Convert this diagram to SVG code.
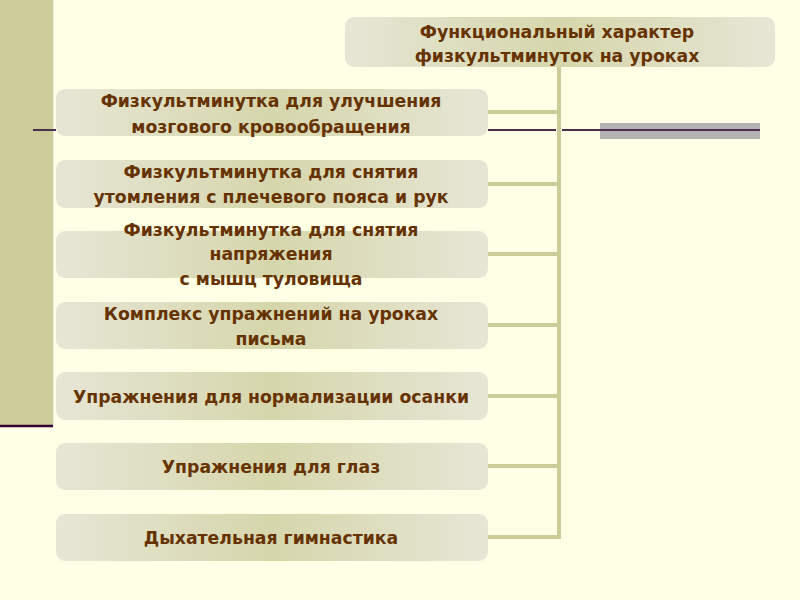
<svg xmlns="http://www.w3.org/2000/svg" width="800" height="600" viewBox="0 0 800 600">
<defs>
<linearGradient id="g" x1="0" y1="0" x2="1" y2="0">
<stop offset="0" stop-color="#e6e6d6"/>
<stop offset="0.5" stop-color="#d6d6ac"/>
<stop offset="1" stop-color="#e6e6d6"/>
</linearGradient>
<style>
.box{fill:url(#g);}
.t{font-family:"DejaVu Sans",sans-serif;font-weight:bold;font-size:17.3px;fill:#663300;text-anchor:middle;}
.c{stroke:#cccc99;stroke-width:4;fill:none;}
.p{stroke:#4d2e4d;stroke-width:2;}
</style>
</defs>
<rect width="800" height="600" fill="#ffffe6"/>
<rect x="0" y="0" width="53" height="427" fill="#cccc99"/>
<line x1="53.5" y1="0" x2="53.5" y2="427" stroke="#f0f0d8" stroke-width="1"/>
<line x1="0" y1="426" x2="53" y2="426" stroke="#330033" stroke-width="2.5"/>
<rect x="600" y="123" width="160" height="16" fill="#b3b3b3"/>
<g id="connectors">
<path class="c" d="M559 67 V537 H488"/>
<line class="c" x1="488" y1="112" x2="559" y2="112"/>
<line class="c" x1="488" y1="184" x2="559" y2="184"/>
<line class="c" x1="488" y1="254" x2="559" y2="254"/>
<line class="c" x1="488" y1="325" x2="559" y2="325"/>
<line class="c" x1="488" y1="396" x2="559" y2="396"/>
<line class="c" x1="488" y1="466" x2="559" y2="466"/>
<line class="p" x1="33" y1="130" x2="56" y2="130"/>
<line class="p" x1="488" y1="130" x2="556" y2="130"/>
<line class="p" x1="562" y1="130" x2="760" y2="130"/>
</g>
<g id="title">
<rect class="box" x="345" y="17" width="430" height="50" rx="9"/>
<text class="t" x="557" y="38">Функциональный характер</text>
<text class="t" x="557" y="62">физкультминуток на уроках</text>
</g>
<g id="n1">
<rect class="box" x="56" y="89" width="432" height="47" rx="9"/>
<text class="t" x="271" y="107">Физкультминутка для улучшения</text>
<text class="t" x="271" y="133">мозгового кровообращения</text>
</g>
<g id="n2">
<rect class="box" x="56" y="160" width="432" height="48" rx="9"/>
<text class="t" x="271" y="178">Физкультминутка для снятия</text>
<text class="t" x="271" y="203">утомления с плечевого пояса и рук</text>
</g>
<g id="n3">
<rect class="box" x="56" y="231" width="432" height="47" rx="9"/>
<text class="t" x="271" y="236">Физкультминутка для снятия</text>
<text class="t" x="271" y="260">напряжения</text>
<text class="t" x="271" y="285">с мышц туловища</text>
</g>
<g id="n4">
<rect class="box" x="56" y="302" width="432" height="47" rx="9"/>
<text class="t" x="271" y="320">Комплекс упражнений на уроках</text>
<text class="t" x="271" y="345">письма</text>
</g>
<g id="n5">
<rect class="box" x="56" y="372" width="432" height="48" rx="9"/>
<text class="t" x="271" y="403">Упражнения для нормализации осанки</text>
</g>
<g id="n6">
<rect class="box" x="56" y="443" width="432" height="47" rx="9"/>
<text class="t" x="271" y="473">Упражнения для глаз</text>
</g>
<g id="n7">
<rect class="box" x="56" y="514" width="432" height="47" rx="9"/>
<text class="t" x="271" y="544">Дыхательная гимнастика</text>
</g>
</svg>
